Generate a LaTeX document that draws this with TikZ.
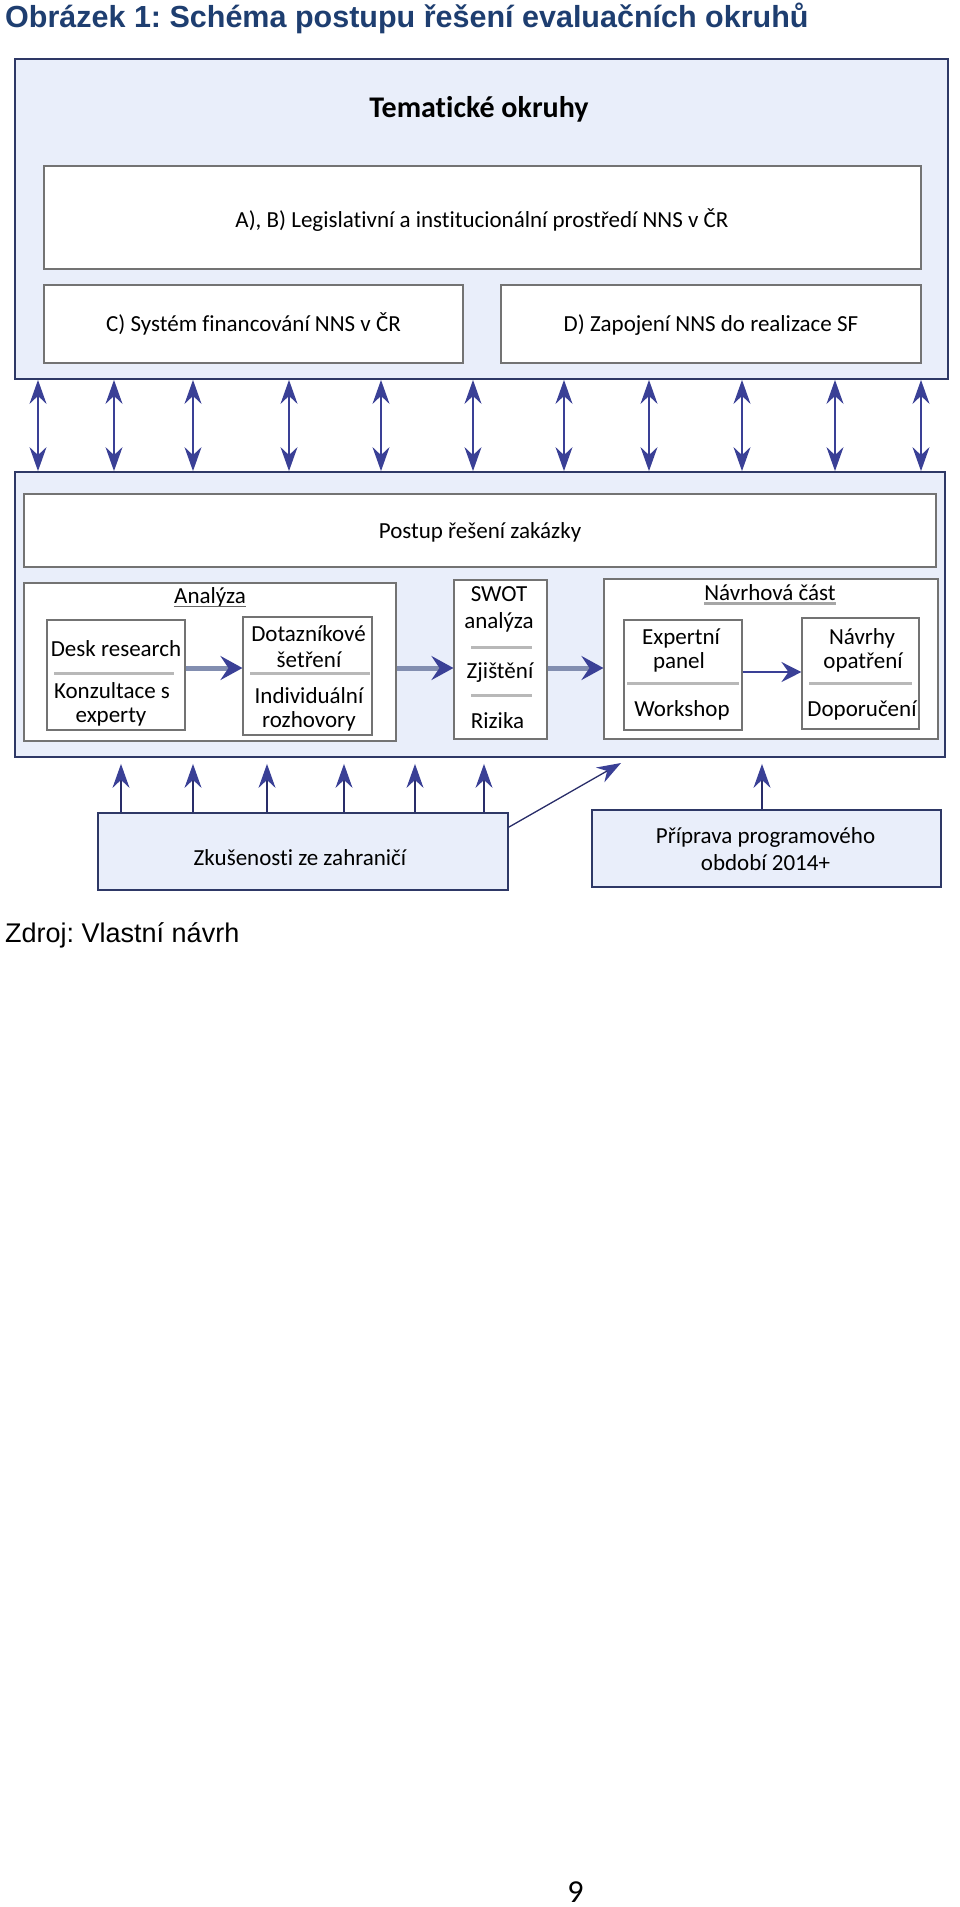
\documentclass[tikz,border=0pt]{standalone}
\usepackage{fontspec}
\setmainfont[Ligatures=NoCommon]{Carlito}
\newfontfamily\arialfont{Liberation Sans}
\usetikzlibrary{arrows.meta}
\frenchspacing

\definecolor{titleblue}{RGB}{30,62,112}
\definecolor{arrowblue}{RGB}{58,64,150}
\definecolor{framecol}{RGB}{46,56,102}
\definecolor{boxfill}{RGB}{233,238,250}
\definecolor{slateline}{RGB}{130,142,176}

\tikzset{
  outerbox/.style={draw=framecol,line width=1.8pt,fill=boxfill,inner sep=0pt},
  whitebox/.style={draw=black!55,line width=1.1pt,fill=white,inner sep=0pt},
  lbl/.style={anchor=base,inner sep=0pt,font=\fontsize{23}{26}\selectfont},
  sepline/.style={black!28,line width=3pt},
  dblarrow/.style={arrowblue,line width=1.5pt,{Stealth[length=24pt,width=17pt,inset=8pt]}-{Stealth[length=24pt,width=17pt,inset=8pt]}},
  uparrow/.style={arrowblue!70!black,line width=1.3pt,-{Stealth[length=24pt,width=17pt,inset=8pt,color=arrowblue]}},
  flowarrow/.style={slateline,line width=5pt,-{Stealth[length=22pt,width=24pt,inset=8pt,color=arrowblue]}},
  thinflow/.style={arrowblue,line width=2pt,-{Stealth[length=20pt,width=20pt,inset=7pt]}}
}

\begin{document}
\begin{tikzpicture}[x=1pt,y=-1pt]
    \useasboundingbox (0,0) rectangle (960,1907);
    \node[anchor=base west,inner sep=0pt,text=titleblue,font=\arialfont\bfseries\fontsize{30.5}{35}\selectfont] (title) at (5,27) {Obrázek 1: Schéma postupu řešení evaluačních okruhů};

    % tematicke okruhy
    \node[outerbox,minimum width=933pt,minimum height=320pt] (okruhy) at (481.5,219) {};
    \node[lbl,font=\bfseries\fontsize{30}{34}\selectfont] (tokruhy) at (479,117) {Tematické okruhy};
    \node[whitebox,minimum width=877pt,minimum height=103pt] (ab) at (482.5,217.5) {};
    \node[whitebox,minimum width=419pt,minimum height=78pt] (sysc) at (253.5,324) {};
    \node[whitebox,minimum width=420pt,minimum height=78pt] (zapd) at (711,324) {};
    \node[lbl] (tab) at (482,227) {A), B) Legislativní a institucionální prostředí NNS v ČR};
    \node[lbl] (tsysc) at (253.5,331.5) {C) Systém financování NNS v ČR};
    \node[lbl] (tzapd) at (711,331.5) {D) Zapojení NNS do realizace SF};

    % postup reseni
    \node[outerbox,minimum width=930pt,minimum height=285pt] (reseni) at (480,614.5) {};
    \node[whitebox,minimum width=912pt,minimum height=73pt] (postup) at (480,530.5) {};
    \node[lbl] (tpostup) at (480,538) {Postup řešení zakázky};
    \node[whitebox,minimum width=372pt,minimum height=158pt] (analyza) at (210,662) {};
    \node[whitebox,minimum width=138pt,minimum height=110pt] (desk) at (116,675) {};
    \node[whitebox,minimum width=129pt,minimum height=118pt] (dotaz) at (307.5,676) {};
    \node[whitebox,minimum width=93pt,minimum height=159pt] (swot) at (500.5,659.5) {};
    \node[whitebox,minimum width=334pt,minimum height=160pt] (navrh) at (771,659) {};
    \node[whitebox,minimum width=118pt,minimum height=110pt] (expert) at (683,675) {};
    \node[whitebox,minimum width=117pt,minimum height=111pt] (navrhy) at (860.5,673.5) {};

    \node[lbl] (tanal) at (210,603) {Analýza};
    \draw[black!60,line width=1pt] ([yshift=-3pt]tanal.base west) -- ([yshift=-3pt]tanal.base east);
    \node[lbl] (tnavrh) at (770,600.5) {Návrhová část};
    \draw[black!35,line width=2.5pt] ([yshift=-3pt]tnavrh.base west) -- ([yshift=-3pt]tnavrh.base east);

    \foreach \txt/\x/\y [count=\i] in {Desk research/116/656, Konzultace s/112/698, experty/111/722,
        Dotazníkové/308.5/641.5, šetření/309/667, Individuální/309/703, rozhovory/309/727,
        SWOT/499/601.5, analýza/499/628, Zjištění/500/678, Rizika/497.5/728,
        Expertní/681/644, panel/679/668, Workshop/682/716.5,
        Návrhy/862/644, opatření/863/668, Doporučení/862/716.5}
        \node[lbl] (t\i) at (\x,\y) {\txt};
    \foreach \xa/\xb/\y in {54/174/673, 250/370/673, 471/532/647, 471/532/695, 627/739/683, 809/912/683}
        \draw[sepline] (\xa,\y) -- (\xb,\y);

    \draw[flowarrow] (desk.east |- 0,668) -- (dotaz.west |- 0,668);
    \draw[flowarrow] (analyza.east |- 0,668) -- (swot.west |- 0,668);
    \draw[flowarrow] (swot.east |- 0,668) -- (navrh.west |- 0,668);
    \draw[thinflow] (expert.east |- 0,672) -- (navrhy.west |- 0,672);

    % vazby
    \foreach \x in {38,114,193,289,381,473,564,649,742,835,921}
        \draw[dblarrow] (okruhy.south -| \x,0) -- (reseni.north -| \x,0);

    % vstupy
    \node[outerbox,minimum width=410pt,minimum height=77pt] (zkus) at (303,851.5) {};
    \node[lbl] (tzkus) at (300,865) {Zkušenosti ze zahraničí};
    \node[outerbox,minimum width=349pt,minimum height=77pt] (priprava) at (766.5,848.5) {};
    \node[lbl] (tprip1) at (765.5,843.5) {Příprava programového};
    \node[lbl] (tprip2) at (765.5,870) {období 2014+};

    \foreach \x in {121,193,267,344,415,484}
        \draw[uparrow,shorten >=6pt] (zkus.north -| \x,0) -- (reseni.south -| \x,0);
    \coordinate (diagtip) at (621,763);
    \draw[uparrow] ([yshift=-15pt]zkus.north east) -- (diagtip);
    \draw[uparrow,shorten >=6pt] (priprava.north -| 762,0) -- (reseni.south -| 762,0);

    \node[anchor=base west,inner sep=0pt,font=\arialfont\fontsize{27}{30}\selectfont] (zdroj) at (5,942) {Zdroj: Vlastní návrh};
    \node[anchor=base,inner sep=0pt,font=\fontsize{32}{36}\selectfont] (pagenum) at (575.5,1902) {9};
\end{tikzpicture}
\end{document}
